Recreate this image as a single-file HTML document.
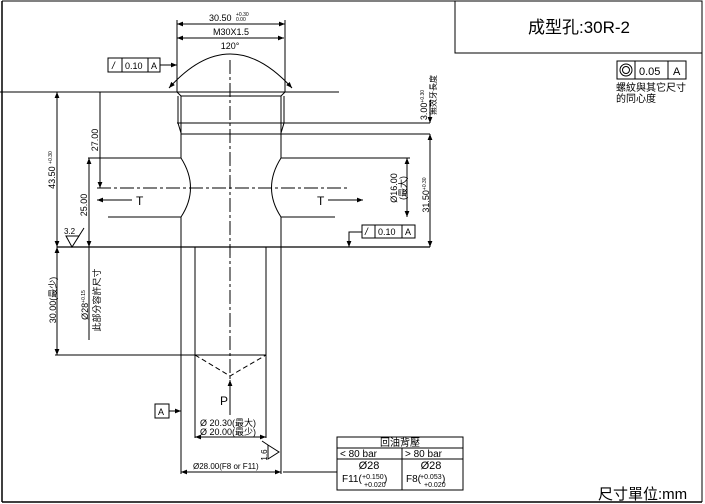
<!DOCTYPE html>
<html><head><meta charset="utf-8"><style>
html,body{margin:0;padding:0;background:#fff;}
svg{display:block;font-family:"Liberation Sans","Noto Sans CJK TC",sans-serif;}
</style></head><body>
<svg width="705" height="504" viewBox="0 0 705 504" xmlns="http://www.w3.org/2000/svg">
<defs>
<marker id="a" viewBox="0 0 10 10" refX="10" refY="5" markerWidth="7" markerHeight="6" orient="auto-start-reverse" markerUnits="userSpaceOnUse"><path d="M0,1 L10,5 L0,9 z" fill="#000"/></marker>
</defs>
<g stroke="#000" fill="none" stroke-width="1">
<line x1="2" y1="1" x2="702" y2="1"/>
<line x1="2" y1="1" x2="2" y2="502" stroke-width="1.5"/>
<line x1="702" y1="1" x2="702" y2="502"/>
<line x1="2" y1="502" x2="702" y2="502" stroke-width="1.5"/>
<rect x="455" y="1" width="247" height="52"/>

<line x1="177" y1="20" x2="177" y2="92"/>
<line x1="285" y1="20" x2="285" y2="92"/>
<line x1="177" y1="24" x2="285" y2="24" marker-start="url(#a)" marker-end="url(#a)"/>
<line x1="177" y1="38" x2="284" y2="38" marker-start="url(#a)" marker-end="url(#a)"/>
<path d="M169,88 Q230,20 292,88" marker-start="url(#a)" marker-end="url(#a)"/>

<line x1="0" y1="92" x2="339" y2="92"/>
<path d="M177,92 L181,96 L281,96 L285,92"/>
<path d="M178,96 L178,123 L181,133 M284,96 L284,123 L281,133"/>
<line x1="177" y1="123" x2="430" y2="123"/>
<line x1="181" y1="134" x2="430" y2="134"/>
<line x1="181" y1="96" x2="181" y2="158"/>
<line x1="281" y1="96" x2="281" y2="158"/>

<line x1="88" y1="158" x2="181" y2="158"/>
<line x1="281" y1="158" x2="410" y2="158"/>
<line x1="108" y1="217" x2="181" y2="217"/>
<line x1="281" y1="217" x2="335" y2="217"/>
<path d="M181,158 Q200,188 181,217"/>
<path d="M281,158 Q262,188 281,217"/>
<line x1="181" y1="217" x2="181" y2="247"/>
<line x1="281" y1="217" x2="281" y2="247"/>
<line x1="97" y1="188" x2="350" y2="188" stroke-dasharray="14,3,3,3"/>
<line x1="230" y1="60" x2="230" y2="390" stroke-dasharray="14,3,3,3"/>
<line x1="132" y1="200" x2="97" y2="200" marker-end="url(#a)"/>
<line x1="328" y1="200" x2="363" y2="200" marker-end="url(#a)"/>

<line x1="57" y1="247" x2="430" y2="247" stroke-width="1.3"/>

<line x1="100" y1="92" x2="100" y2="188" marker-end="url(#a)"/>
<line x1="89" y1="158" x2="89" y2="247" marker-start="url(#a)" marker-end="url(#a)"/>
<line x1="89" y1="247" x2="89" y2="340"/>
<line x1="57" y1="92" x2="57" y2="247" marker-start="url(#a)" marker-end="url(#a)"/>
<line x1="57" y1="247" x2="57" y2="355" marker-start="url(#a)" marker-end="url(#a)"/>
<path d="M66,236 L79,236 L72,247 Z M72,247 L84,228"/>

<line x1="407" y1="158" x2="407" y2="217" marker-start="url(#a)" marker-end="url(#a)"/>
<line x1="430" y1="134" x2="430" y2="247" marker-start="url(#a)" marker-end="url(#a)"/>
<line x1="430" y1="100" x2="430" y2="123" marker-end="url(#a)"/>
<rect x="362" y="225" width="53" height="13"/>
<line x1="375" y1="225" x2="375" y2="238"/>
<line x1="402" y1="225" x2="402" y2="238"/>
<path d="M362,232 L349,232 L349,247" marker-end="url(#a)"/>
<rect x="108" y="58" width="52" height="14"/>
<line x1="122" y1="58" x2="122" y2="72"/>
<line x1="148" y1="58" x2="148" y2="72"/>
<line x1="160" y1="65" x2="177" y2="65" marker-end="url(#a)"/>

<line x1="181" y1="247" x2="181" y2="474"/>
<line x1="281" y1="247" x2="281" y2="474"/>
<line x1="195" y1="247" x2="195" y2="438"/>
<line x1="266" y1="247" x2="266" y2="438"/>
<line x1="55" y1="355" x2="266" y2="355"/>
<path d="M195,355 L230,376 L266,355" stroke-dasharray="5,3"/>
<line x1="230" y1="415" x2="230" y2="380" marker-end="url(#a)"/>
<line x1="195" y1="437" x2="266" y2="437" marker-start="url(#a)" marker-end="url(#a)"/>
<rect x="155" y="404" width="14" height="14"/>
<line x1="169" y1="411" x2="181" y2="411" marker-end="url(#a)"/>
<path d="M268,445 L279,452 L268,459 Z M268,445 L262,441"/>
<line x1="181" y1="472" x2="281" y2="472" marker-start="url(#a)" marker-end="url(#a)"/>
<line x1="283" y1="472" x2="337" y2="472"/>

<rect x="337" y="437" width="126" height="53"/>
<line x1="337" y1="448" x2="463" y2="448"/>
<line x1="337" y1="459" x2="463" y2="459"/>
<line x1="402" y1="448" x2="402" y2="490"/>

<rect x="617" y="61" width="69" height="18"/>
<line x1="635" y1="61" x2="635" y2="79"/>
<line x1="668" y1="61" x2="668" y2="79"/>
<circle cx="626" cy="70" r="6"/><circle cx="626" cy="70" r="3.5"/>
</g>

<g fill="#000" font-size="9">
<text x="579" y="33" font-size="17" text-anchor="middle">成型孔:30R-2</text>
<text x="639" y="75" font-size="11">0.05</text>
<text x="673" y="75" font-size="11">A</text>
<text x="616" y="91" font-size="10">螺紋與其它尺寸</text>
<text x="616" y="102" font-size="10">的同心度</text>
<text x="209" y="21">30.50</text><text x="236" y="16" font-size="5">+0.30</text><text x="236" y="21" font-size="5">0.00</text>
<text x="231" y="35" text-anchor="middle">M30X1.5</text>
<text x="230" y="49" text-anchor="middle">120°</text>
<text x="112" y="69" font-style="italic" font-size="10">/</text>
<text x="125" y="69">0.10</text><text x="151" y="69">A</text>
<text x="365" y="235" font-style="italic" font-size="10">/</text>
<text x="378" y="235">0.10</text><text x="405" y="235">A</text>
<text x="136" y="205" font-size="12">T</text>
<text x="317" y="205" font-size="12">T</text>
<text x="220" y="405" font-size="12">P</text>
<text x="158" y="415">A</text>
<text x="200" y="426">Ø 20.30(最大)</text>
<text x="200" y="435">Ø 20.00(最少)</text>
<text x="193" y="469" font-size="8">Ø28.00(F8 or F11)</text>
<text x="64" y="234" font-size="8">3.2</text>
<text transform="translate(98,140) rotate(-90)" text-anchor="middle">27.00</text>
<text transform="translate(87,205) rotate(-90)" text-anchor="middle">25.00</text>
<text transform="translate(55,170) rotate(-90)" text-anchor="middle">43.50 <tspan font-size="5" dy="-3">+0.30</tspan></text>
<text transform="translate(56,300) rotate(-90)" text-anchor="middle">30.00(最少)</text>
<text transform="translate(88,305) rotate(-90)" text-anchor="middle">Ø28<tspan font-size="5" dy="-3">+0.15</tspan></text>
<text transform="translate(100,300) rotate(-90)" text-anchor="middle">此部分容許尺寸</text>
<text transform="translate(397,188) rotate(-90)" text-anchor="middle">Ø16.00</text>
<text transform="translate(406,188) rotate(-90)" text-anchor="middle">(最大)</text>
<text transform="translate(429,195) rotate(-90)" text-anchor="middle">31.50<tspan font-size="5" dy="-3">+0.30</tspan></text>
<text transform="translate(427,105) rotate(-90)" text-anchor="middle">3.00<tspan font-size="5" dy="-3">+0.30</tspan></text>
<text transform="translate(436,95) rotate(-90)" text-anchor="middle" font-size="8">無效牙長度</text>
<text transform="translate(267,455) rotate(-90)" text-anchor="middle" font-size="8">1.6</text>
<text x="400" y="446" font-size="10" text-anchor="middle">回油背壓</text>
<text x="340" y="457" font-size="10">&lt; 80 bar</text>
<text x="405" y="457" font-size="10">&gt; 80 bar</text>
<text x="369" y="469" font-size="11" text-anchor="middle">Ø28</text>
<text x="431" y="469" font-size="11" text-anchor="middle">Ø28</text>
<text x="342" y="482" font-size="10">F11(</text><text x="362" y="479" font-size="7">+0.150</text><text x="364" y="487" font-size="7">+0.020</text><text x="384" y="482" font-size="10">)</text>
<text x="406" y="482" font-size="10">F8(</text><text x="420" y="479" font-size="7">+0.053</text><text x="424" y="487" font-size="7">+0.020</text><text x="442" y="482" font-size="10">)</text>
<text x="598" y="499" font-size="15">尺寸單位:mm</text>
</g>
</svg>
</body></html>
